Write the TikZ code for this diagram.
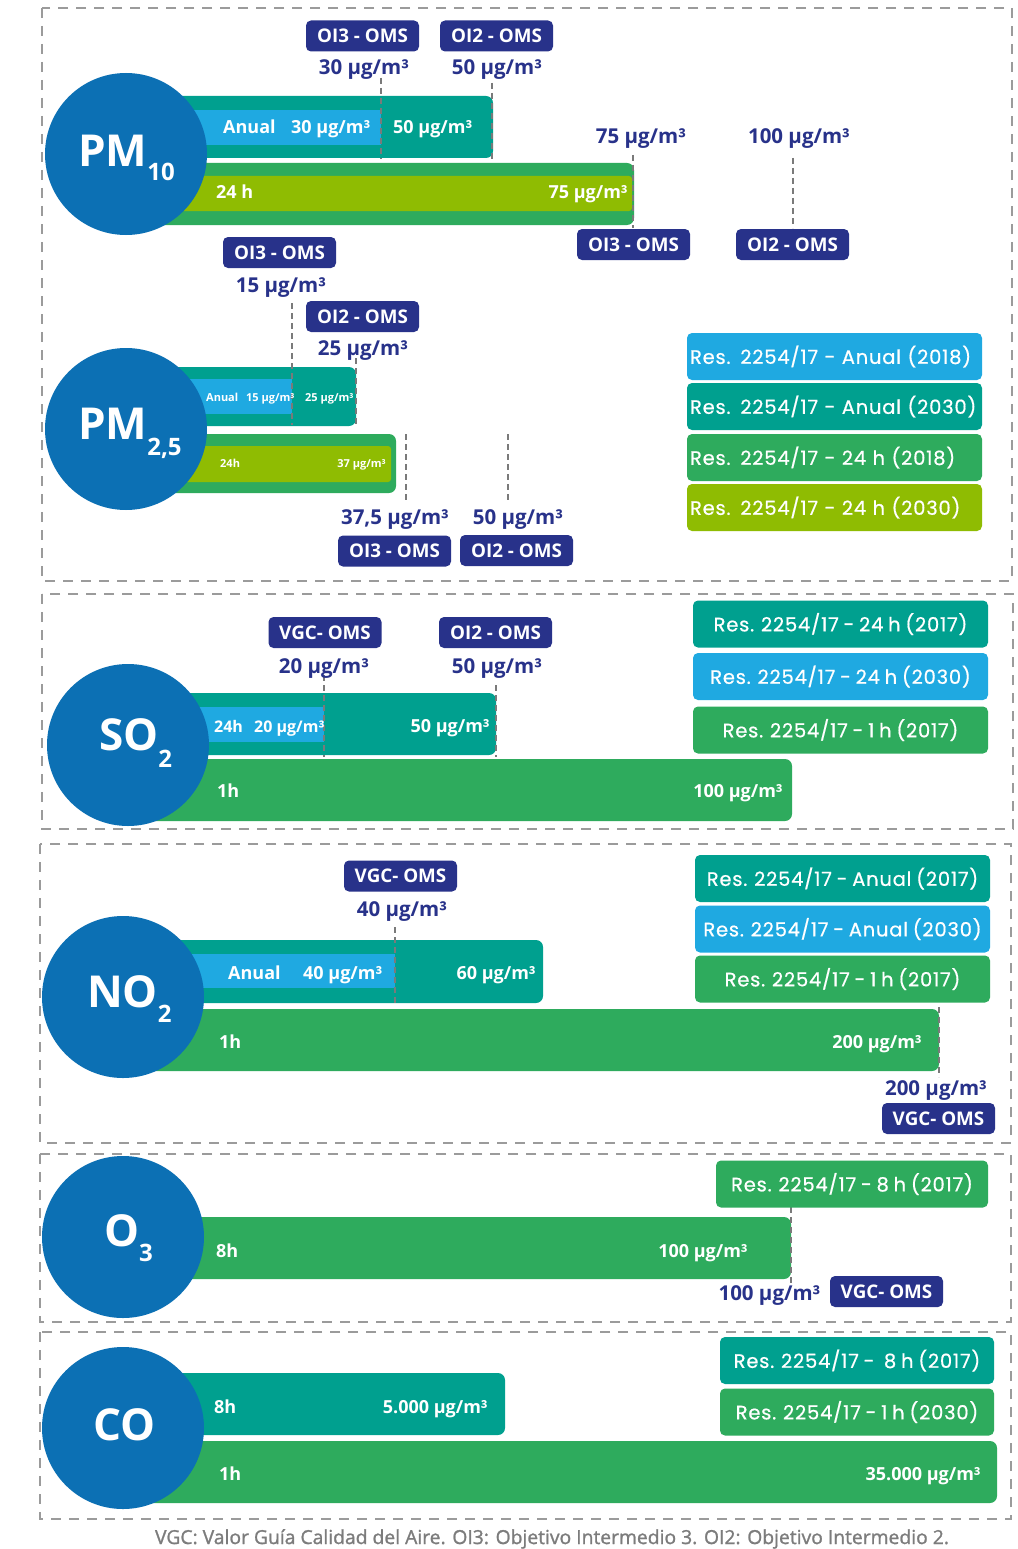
\documentclass[tikz,border=0pt]{standalone}
\usepackage{fontspec}
\setmainfont{Open Sans}
\newfontfamily\legfont{Poppins}[LetterSpace=4, WordSpace=0.8, FakeBold=0.6]
\newfontfamily\footfont{Open Sans}[FakeBold=1.2]
\definecolor{circblue}{HTML}{0C70B4}
\definecolor{lblue}{HTML}{1FA9E1}
\definecolor{tealc}{HTML}{00A08F}
\definecolor{greenc}{HTML}{2EAB5D}
\definecolor{ygreen}{HTML}{8FBC02}
\definecolor{navy}{HTML}{28328A}
\definecolor{dashgray}{HTML}{9B9B9B}
\definecolor{guidegray}{HTML}{7A7A7A}
\definecolor{footgray}{HTML}{7C7C7C}
\newcommand{\ug}{µg/m³}
\newcommand{\subx}[2]{\raisebox{#1}{\fontsize{24}{24}\selectfont #2}}
\begin{document}
\begin{tikzpicture}[x=1pt,y=-1pt,
  sect/.style={draw=dashgray, line width=2pt, dash pattern=on 10pt off 8pt},
  bubble/.style={circle, fill=circblue, minimum size=162pt, inner sep=0pt},
  bubtxt/.style={text=white, font=\bfseries\fontsize{44}{44}\selectfont, inner sep=0pt},
  tag/.style={fill=navy, text=white, rounded corners=5pt, font=\bfseries\fontsize{18.8}{18.8}\selectfont, minimum width=113pt, minimum height=31pt, inner sep=0pt},
  val/.style={text=navy, font=\bfseries\fontsize{20.5}{20.5}\selectfont, inner sep=0pt},
  btxt/.style={text=white, font=\bfseries\fontsize{18}{18}\selectfont, inner sep=0pt},
  btxtm/.style={text=white, font=\bfseries\fontsize{16}{16}\selectfont, inner sep=0pt},
  btxts/.style={text=white, font=\bfseries\fontsize{11}{11}\selectfont, inner sep=0pt},
  bar/.style={rounded corners=7pt},
  guide/.style={draw=guidegray, line width=2pt, dash pattern=on 6pt off 4pt},
  legbox/.style={rounded corners=5pt, text=white, minimum height=47pt, inner sep=0pt, font=\legfont\fontsize{19.5}{19.5}\selectfont},
  legl/.style={legbox, minimum width=295pt, text width=289pt, align=left},
  legc/.style={legbox, minimum width=295pt, align=center}
]
\useasboundingbox (0,0) rectangle (1017,1549);
\fill[white] (0,0) rectangle (1017,1549);

% section frames
\draw[sect] (42,8) rectangle (1012,581);
\draw[sect] (42,594) rectangle (1013,829);
\draw[sect] (40,844) rectangle (1011,1143);
\draw[sect] (40,1154) rectangle (1011,1322);
\draw[sect] (40,1332) rectangle (1011,1519);

% ================= PM10 =================
\fill[tealc,bar] (126,96) rectangle (493,158);
\fill[lblue] (126,110) rectangle (381,145);
\fill[greenc,bar] (126,163) rectangle (634,225);
\fill[ygreen,rounded corners=3pt] (126,176) rectangle (632,211);
\coordinate (ga1) at (381,78);  \coordinate (gb1) at (381,159);
\coordinate (ga2) at (492,83);  \coordinate (gb2) at (492,159);
\coordinate (ga3) at (633,155); \coordinate (gb3) at (633,228);
\coordinate (ga4) at (793,158); \coordinate (gb4) at (793,228);
\draw[guide] (ga1) -- (gb1);
\draw[guide] (ga2) -- (gb2);
\draw[guide] (ga3) -- (gb3);
\draw[guide] (ga4) -- (gb4);
\node[bubble] (c1) at (126,154) {};
\node[bubtxt, anchor=base west] (t1) at (78,167) {PM\subx{-14pt}{10}};
\node[btxt, anchor=base west] (a1) at (223,134) {Anual};
\node[btxt, anchor=base west] (a2) at (291,134) {30 \ug};
\node[btxt, anchor=base west] (a3) at (393,134) {50 \ug};
\node[btxt, anchor=base west] (a4) at (216,199) {24 h};
\node[btxt, anchor=base east] (a5) at (628,199) {75 \ug};
\node[tag] (k1) at (362.5,36) {OI3 - OMS};
\node[tag] (k2) at (496.5,36) {OI2 - OMS};
\node[val, anchor=base] (v1) at (364,75) {30 \ug};
\node[val, anchor=base] (v2) at (497,75) {50 \ug};
\node[val, anchor=base] (v3) at (641,144) {75 \ug};
\node[val, anchor=base] (v4) at (799,144) {100 \ug};
\node[tag] (k3) at (633.5,244.5) {OI3 - OMS};
\node[tag] (k4) at (792.5,244.5) {OI2 - OMS};

% ================= PM2.5 =================
\fill[tealc,bar] (126,367) rectangle (356,426);
\fill[lblue] (126,379) rectangle (292,414);
\fill[greenc,bar] (126,434) rectangle (396,493);
\fill[ygreen,rounded corners=3pt] (126,446) rectangle (391,482);
\coordinate (ga5) at (292,303); \coordinate (gb5) at (292,425);
\coordinate (ga6) at (356,358); \coordinate (gb6) at (356,427);
\coordinate (ga7) at (406,434); \coordinate (gb7) at (406,503);
\coordinate (ga8) at (508,434); \coordinate (gb8) at (508,503);
\draw[guide] (ga5) -- (gb5);
\draw[guide] (ga6) -- (gb6);
\draw[guide] (ga7) -- (gb7);
\draw[guide] (ga8) -- (gb8);
\node[bubble] (c2) at (126,429) {};
\node[bubtxt, anchor=base west] (t2) at (78,439) {PM\subx{-16pt}{2,5}};
\node[btxts, anchor=base west] (b1) at (206,401) {Anual};
\node[btxts, anchor=base west] (b2) at (246,401) {15 \ug};
\node[btxts, anchor=base west] (b3) at (305,401) {25 \ug};
\node[btxts, anchor=base west] (b4) at (220,467) {24h};
\node[btxts, anchor=base east] (b5) at (386,467) {37 \ug};
\node[tag] (k5) at (279.5,252.5) {OI3 - OMS};
\node[val, anchor=base] (v5) at (281,292) {15 \ug};
\node[tag] (k6) at (362.5,316.5) {OI2 - OMS};
\node[val, anchor=base] (v6) at (363,355) {25 \ug};
\node[val, anchor=base] (v7) at (395,524) {37,5 \ug};
\node[val, anchor=base] (v8) at (518,524) {50 \ug};
\node[tag] (k7) at (394.5,551) {OI3 - OMS};
\node[tag] (k8) at (516.5,550.5) {OI2 - OMS};

% PM legend
\node[legl, fill=lblue] (l1) at (834.5,356.5) {Res. 2254/17 - Anual (2018)};
\node[legl, fill=tealc] (l2) at (834.5,406.5) {Res. 2254/17 - Anual (2030)};
\node[legl, fill=greenc] (l3) at (834.5,457.5) {Res. 2254/17 - 24 h (2018)};
\node[legl, fill=ygreen] (l4) at (834.5,507.5) {Res. 2254/17 - 24 h (2030)};

% ================= SO2 =================
\fill[tealc,bar] (128,693) rectangle (496,755);
\fill[lblue] (128,707) rectangle (324,742);
\fill[greenc,bar] (128,759) rectangle (792,821);
\coordinate (ga9) at (324,675); \coordinate (gb9) at (324,757);
\coordinate (ga10) at (496,685); \coordinate (gb10) at (496,757);
\draw[guide] (ga9) -- (gb9);
\draw[guide] (ga10) -- (gb10);
\node[bubble] (c3) at (128,745) {};
\node[bubtxt, anchor=base west] (t3) at (99,750) {SO\subx{-17pt}{2}};
\node[btxtm, anchor=base west] (s1) at (214,732) {24h};
\node[btxtm, anchor=base west] (s2) at (254,732) {20 \ug};
\node[btxt, anchor=base east] (s3) at (490,732) {50 \ug};
\node[btxt, anchor=base west] (s4) at (217,797) {1h};
\node[btxt, anchor=base east] (s5) at (783,797) {100 \ug};
\node[tag] (k9) at (325,632.5) {VGC- OMS};
\node[tag] (k10) at (495.5,632.5) {OI2 - OMS};
\node[val, anchor=base] (v9) at (324,673) {20 \ug};
\node[val, anchor=base] (v10) at (497,673) {50 \ug};
\node[legc, fill=tealc] (l5) at (840.5,624) {Res. 2254/17 - 24 h (2017)};
\node[legc, fill=lblue] (l6) at (840.5,676.5) {Res. 2254/17 - 24 h (2030)};
\node[legc, fill=greenc] (l7) at (840.5,730) {Res. 2254/17 - 1 h (2017)};

% ================= NO2 =================
\fill[tealc,bar] (123,940) rectangle (543,1003);
\fill[lblue] (123,954) rectangle (395,988);
\fill[greenc,bar] (123,1009) rectangle (939,1071);
\coordinate (ga11) at (395,927); \coordinate (gb11) at (395,1004);
\coordinate (ga12) at (939,1007); \coordinate (gb12) at (939,1077);
\draw[guide] (ga11) -- (gb11);
\draw[guide] (ga12) -- (gb12);
\node[bubble] (c4) at (123,997) {};
\node[bubtxt, anchor=base west] (t4) at (87,1007) {NO\subx{-15pt}{2}};
\node[btxt, anchor=base west] (n1) at (228,979) {Anual};
\node[btxt, anchor=base west] (n2) at (303,979) {40 \ug};
\node[btxt, anchor=base east] (n3) at (536,979) {60 \ug};
\node[btxt, anchor=base west] (n4) at (219,1048) {1h};
\node[btxt, anchor=base east] (n5) at (922,1048) {200 \ug};
\node[tag] (k11) at (400.5,876) {VGC- OMS};
\node[val, anchor=base] (v11) at (402,916) {40 \ug};
\node[val, anchor=base] (v12) at (936,1095) {200 \ug};
\node[tag] (k12) at (938.5,1118.5) {VGC- OMS};
\node[legc, fill=tealc] (l8) at (842.5,878.5) {Res. 2254/17 - Anual (2017)};
\node[legc, fill=lblue] (l9) at (842.5,929) {Res. 2254/17 - Anual (2030)};
\node[legc, fill=greenc] (l10) at (842.5,979) {Res. 2254/17 - 1 h (2017)};

% ================= O3 =================
\fill[greenc,bar] (123,1217) rectangle (791,1279);
\coordinate (ga13) at (791,1207); \coordinate (gb13) at (791,1285);
\draw[guide] (ga13) -- (gb13);
\node[bubble] (c5) at (123,1237) {};
\node[bubtxt, anchor=base west] (t5) at (104,1246) {O\subx{-15pt}{3}};
\node[btxt, anchor=base west] (o1) at (216,1257) {8h};
\node[btxt, anchor=base east] (o2) at (748,1257) {100 \ug};
\node[val, anchor=base] (v13) at (769.5,1300) {100 \ug};
\node[tag] (k13) at (886.5,1291.5) {VGC- OMS};
\node[legbox, minimum width=272pt, fill=greenc] (l11) at (852,1184) {Res. 2254/17 - 8 h (2017)};

% ================= CO =================
\fill[tealc,bar] (123,1373) rectangle (505,1435);
\fill[greenc,bar] (123,1441) rectangle (997,1503);
\node[bubble] (c6) at (123,1428) {};
\node[bubtxt, anchor=base west] (t6) at (93,1440) {CO};
\node[btxt, anchor=base west] (q1) at (214,1413) {8h};
\node[btxt, anchor=base east] (q2) at (488,1413) {5.000 \ug};
\node[btxt, anchor=base west] (q3) at (219,1480) {1h};
\node[btxt, anchor=base east] (q4) at (981,1480) {35.000 \ug};
\node[legbox, minimum width=274pt, fill=tealc] (l12) at (857,1360.5) {Res. 2254/17 -\ \ 8 h (2017)};
\node[legbox, minimum width=274pt, fill=greenc] (l13) at (857,1412) {Res. 2254/17 - 1 h (2030)};

% footer
\node[text=footgray, font=\footfont\fontsize{19.3}{19.3}\selectfont, anchor=base, inner sep=0pt] (foot) at (552,1544) {VGC: Valor Guía Calidad del Aire. OI3: Objetivo Intermedio 3. OI2: Objetivo Intermedio 2.};
\end{tikzpicture}
\end{document}
